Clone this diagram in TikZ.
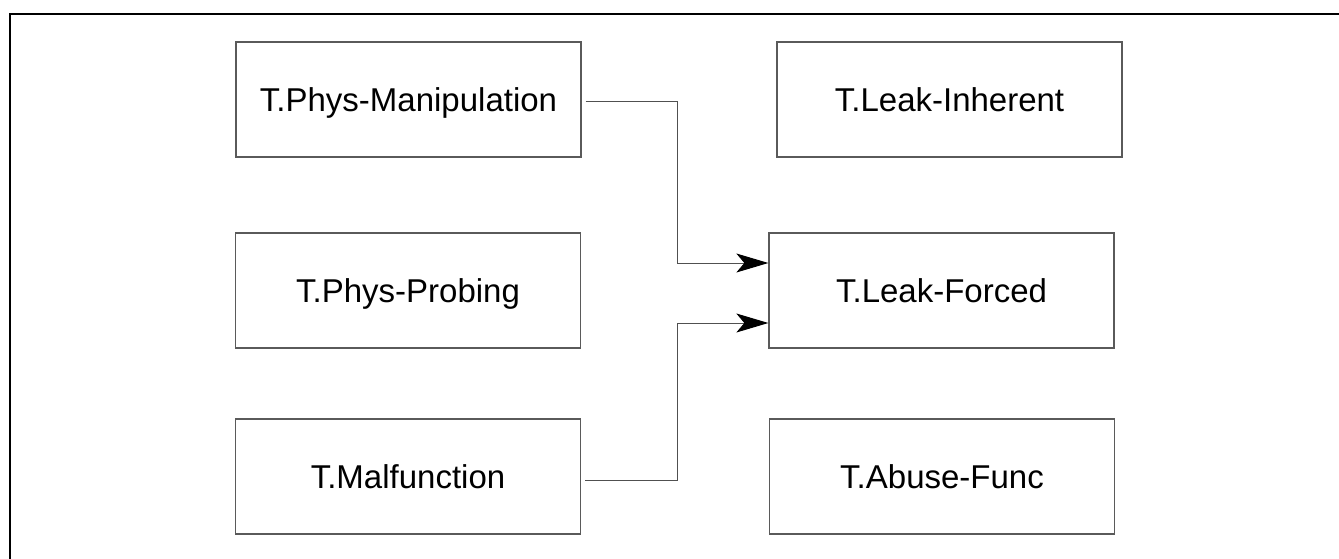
\documentclass[tikz,border=0pt]{standalone}
\usepackage{fontspec}
\setmainfont{Liberation Sans}
\usetikzlibrary{arrows.meta,calc}
\definecolor{boxline}{RGB}{90,90,90}
\definecolor{linkline}{RGB}{80,80,80}
\tikzset{
  threat/.style={draw=boxline, line width=1.3pt, rectangle, minimum width=345pt, minimum height=115pt, inner sep=0pt, text height=23.5pt, text depth=0pt, font=\fontsize{33}{38}\selectfont},
  link/.style={draw=linkline, line width=1pt, -{Stealth[length=32pt,width=19pt,inset=8pt,color=black]}},
  frame/.style={draw=black, line width=2.2pt}
}
\begin{document}
\begin{tikzpicture}[x=1pt,y=-1pt]
\useasboundingbox (0,0) rectangle (1339,559);
\fill[white] (0,0) rectangle (1339,559);
\draw[frame] (10,14) rectangle (1360,580);
\node[threat] (PM) at (408.5,99.5) {T.Phys-Manipulation};
\node[threat] (LI) at (949.5,99.5) {T.Leak-Inherent};
\node[threat] (PP) at (408,290.5) {T.Phys-Probing};
\node[threat] (LF) at (941.5,290.5) {T.Leak-Forced};
\node[threat] (MF) at (408,476.5) {T.Malfunction};
\node[threat] (AF) at (942,476.5) {T.Abuse-Func};
\coordinate (s1) at ($(PM.east)+(4,2.5)$);
\coordinate (s2) at ($(MF.east)+(4,3.5)$);
\draw[link] (s1) -- (677,102) -- (677,263) -- ($(LF.west)+(0,-27.5)$);
\draw[link] (s2) -- (677,480) -- (677,323) -- ($(LF.west)+(0,32.5)$);
\end{tikzpicture}
\end{document}
